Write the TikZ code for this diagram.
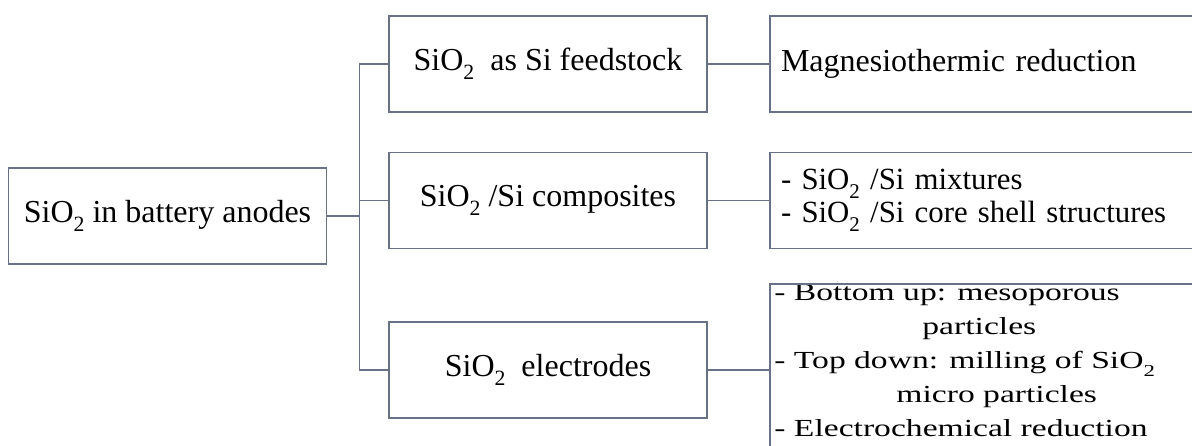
\documentclass[tikz,border=0pt]{standalone}
\usepackage{fontspec}
\usepackage{graphicx}
\setmainfont{Liberation Serif}
\usetikzlibrary{positioning,fit}
\definecolor{edgegray}{RGB}{104,113,133}
\newcommand{\sio}{SiO\raisebox{-0.3em}{\scalebox{0.68}{2}}}

\begin{document}
\begin{tikzpicture}[x=0.5pt, y=-0.5pt, font=\fontsize{16}{16.5}\selectfont,
  box/.style={draw=edgegray, line width=0.9pt, minimum width=159pt, minimum height=48pt, inner sep=0pt},
  listbox/.style={box, minimum width=235pt, text width=224pt, align=left},
  link/.style={draw=edgegray, line width=0.9pt}]
  \useasboundingbox (0,0) rectangle (1192,445);
  \clip (0,0) rectangle (1192,445);

  \node[box] (root) at (167.5,216) {\sio\ in battery anodes};
  \node[box] (feed) at (548,63.75) {\sio\ \ as Si feedstock};
  \node[box] (comp) at (548,200.5) {\sio\ /Si composites};
  \node[box] (elec) at (548,370) {\sio\ \ electrodes};

  \node[listbox] (magn) at (1005,63.75) {Magnesiothermic reduction};
  \node[listbox, font=\fontsize{15.4}{16.5}\selectfont] (mix) at (1005,200.5) {- \sio\ /Si mixtures\\- \sio\ /Si core shell structures};

  \coordinate (listcorner) at (774,284.5);
  \node[anchor=north west, inner sep=0pt, align=left, yscale=0.73, transform shape,
    font={\fontsize{16.8}{23.3}\selectfont\lineskiplimit=-20pt\relax}] (elecList) at (listcorner)
    {- Bottom up: mesoporous\\\hspace*{74pt}particles\\- Top down: milling of \sio\\\hspace*{61pt}micro particles\\- Electrochemical reduction};
  \node[box, fit={(elecList) (770,284) (1240,470)}] (r3) {};

  % tree connectors
  \coordinate[right=16pt of root.east] (fork);
  \draw[link] (root) -- (fork);
  \draw[link] (fork |- feed) -- (fork |- elec);
  \foreach \n in {feed,comp,elec}
    \draw[link] (fork |- \n) -- (\n);
  \draw[link] (feed) -- (magn);
  \draw[link] (comp) -- (mix);
  \draw[link] (elec) -- (elec -| r3.west);
\end{tikzpicture}
\end{document}
